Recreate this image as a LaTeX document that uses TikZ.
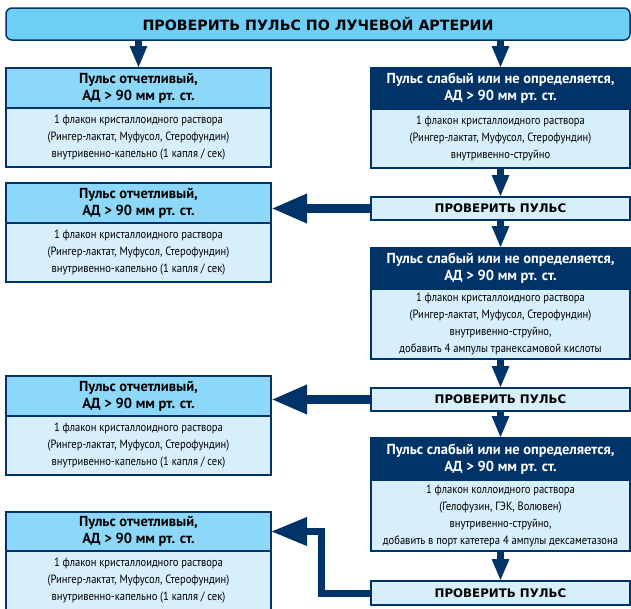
\documentclass[tikz,border=0pt]{standalone}
\usepackage{fontspec}
\setmainfont{PT Sans}
\newfontfamily\narrowfont{PT Sans}[FakeStretch=0.88]
\newfontfamily\bannerfont{DejaVu Sans}
\usetikzlibrary{positioning, arrows.meta}

\definecolor{navy}{RGB}{0,52,105}
\definecolor{banfill}{RGB}{109,207,246}
\definecolor{okfill}{RGB}{141,216,248}
\definecolor{bodyfill}{RGB}{215,238,251}

\begin{document}
\begin{tikzpicture}[
		x=1pt, y=-1pt,
		box/.style={draw=navy, line width=1.5pt, rectangle, inner sep=0pt, outer sep=0pt, align=center},
		banner/.style={box, fill=banfill, rounded corners=6pt, minimum width=624pt, minimum height=32pt, font=\bannerfont\bfseries\fontsize{14.2}{17}\selectfont},
		okhead/.style={box, fill=okfill, minimum width=265pt, minimum height=40pt, font=\fontsize{14.5}{17}\selectfont\bfseries},
		weakhead/.style={box, fill=navy, text=white, minimum width=259pt, minimum height=41pt, font=\fontsize{14.5}{17}\selectfont\bfseries},
		infobody/.style={box, fill=bodyfill, minimum height=59pt, font=\narrowfont\fontsize{12}{17}\selectfont},
		check/.style={box, fill=bodyfill, minimum width=259pt, minimum height=23pt, font=\bannerfont\bfseries\fontsize{11.8}{15}\selectfont},
		varrow/.style={-{Triangle[length=22pt, width=16pt]}, line width=7pt, navy},
		harrow/.style={-{Triangle[length=36pt, width=27pt]}, line width=9pt, navy}
		]
		
		\clip (0,0) rectangle (631,608);
		
		% Nodes
		\node[banner, anchor=north west] (banner) at (6,8) {ПРОВЕРИТЬ ПУЛЬС ПО ЛУЧЕВОЙ АРТЕРИИ};
		
		\node[okhead, anchor=north west] (l1h) at (6,68) {Пульс отчетливый,\\АД > 90 мм рт. ст.};
		\node[infobody, minimum width=265pt, below=0pt of l1h] (l1b) {1 флакон кристаллоидного раствора\\(Рингер-лактат, Муфусол, Стерофундин)\\внутривенно-капельно (1 капля / сек)};
		
		\node[weakhead, anchor=north west] (r1h) at (371,68) {Пульс слабый или не определяется,\\АД > 90 мм рт. ст.};
		\node[infobody, minimum width=259pt, below=0pt of r1h] (r1b) {1 флакон кристаллоидного раствора\\(Рингер-лактат, Муфусол, Стерофундин)\\внутривенно-струйно};
		
		\node[check, below=29pt of r1b] (c2) {ПРОВЕРИТЬ ПУЛЬС};
		
		\node[okhead, anchor=north west] (l2h) at (6,183) {Пульс отчетливый,\\АД > 90 мм рт. ст.};
		\node[infobody, minimum width=265pt, below=0pt of l2h] (l2b) {1 флакон кристаллоидного раствора\\(Рингер-лактат, Муфусол, Стерофундин)\\внутривенно-капельно (1 капля / сек)};
		
		\node[weakhead, below=28pt of c2] (r2h) {Пульс слабый или не определяется,\\АД > 90 мм рт. ст.};
		\node[infobody, minimum width=259pt, minimum height=70pt, below=0pt of r2h] (r2b) {1 флакон кристаллоидного раствора\\(Рингер-лактат, Муфусол, Стерофундин)\\внутривенно-струйно,\\добавить 4 ампулы транексамовой кислоты};
		
		\node[check, below=29pt of r2b] (c3) {ПРОВЕРИТЬ ПУЛЬС};
		
		\node[okhead, anchor=north west] (l3h) at (6,376) {Пульс отчетливый,\\АД > 90 мм рт. ст.};
		\node[infobody, minimum width=265pt, below=0pt of l3h] (l3b) {1 флакон кристаллоидного раствора\\(Рингер-лактат, Муфусол, Стерофундин)\\внутривенно-капельно (1 капля / сек)};
		
		\node[weakhead, minimum height=42pt, below=27pt of c3] (r3h) {Пульс слабый или не определяется,\\АД > 90 мм рт. ст.};
		\node[infobody, minimum width=259pt, minimum height=71pt, below=0pt of r3h] (r3b) {1 флакон коллоидного раствора\\(Гелофузин, ГЭК, Волювен)\\внутривенно-струйно,\\добавить в порт катетера 4 ампулы дексаметазона};
		
		\node[check, minimum height=24pt, below=30pt of r3b] (c4) {ПРОВЕРИТЬ ПУЛЬС};
		
		\node[okhead, minimum height=39pt, anchor=north west] (l4h) at (6,512) {Пульс отчетливый,\\АД > 90 мм рт. ст.};
		\node[infobody, minimum width=265pt, below=0pt of l4h] (l4b) {1 флакон кристаллоидного раствора\\(Рингер-лактат, Муфусол, Стерофундин)\\внутривенно-капельно (1 капля / сек)};
		
		% Arrows
		\draw[varrow] (banner.south -| l1h.north) -- (l1h.north);
		\draw[varrow] (banner.south -| r1h.north) -- (r1h.north);
		\draw[varrow] (r1b) -- (c2);
		\draw[varrow] (c2) -- (r2h);
		\draw[varrow] (r2b) -- (c3);
		\draw[varrow] (c3) -- (r3h);
		\draw[varrow] (r3b) -- (c4);
		
		\draw[harrow] (c2.west) -- (c2.west -| l2h.east);
		\draw[harrow] (c3.west) -- (c3.west -| l3h.east);
		\draw[harrow, line width=7pt] (c4.west) -- ++(-50pt,0) |- (l4h.east);
		
	\end{tikzpicture}
\end{document}
